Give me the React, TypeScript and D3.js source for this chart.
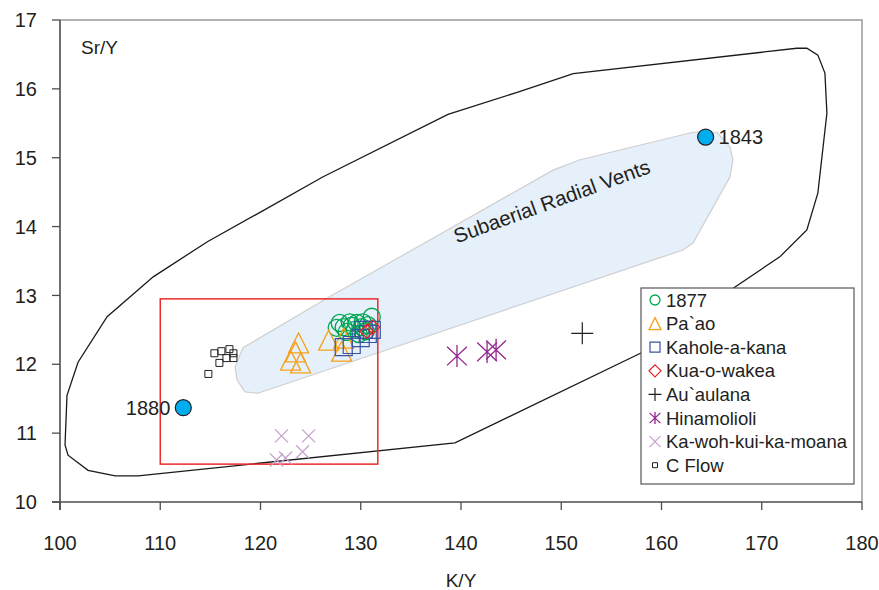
// React
import { useEffect, useRef } from 'react';

// Installed Packages
import * as d3 from 'd3';

type Pt = [number, number];

// Axes
const xTicks = [100, 110, 120, 130, 140, 150, 160, 170, 180];
const yTicks = [10, 11, 12, 13, 14, 15, 16, 17];

// Outer field (black outline), K/Y vs Sr/Y
const envelope: Pt[] = [
    [100.5, 10.83], [100.8, 10.68], [102.8, 10.46], [105.5, 10.38], [107.8, 10.38],
    [139.4, 10.86], [157.9, 12.16], [167.3, 13.12], [171.8, 13.56], [174.5, 13.95],
    [175.6, 14.49], [176.5, 15.65], [176.3, 16.23], [175.6, 16.49], [174.5, 16.59],
    [173.5, 16.59], [151.2, 16.22], [145.6, 15.95], [138.7, 15.63], [126.2, 14.72],
    [120.0, 14.21], [114.7, 13.78], [109.3, 13.27], [104.7, 12.69], [101.8, 12.03],
    [100.7, 11.55]
];

// Subaerial radial vents field
const radialVents: Pt[] = [
    [118.25, 12.24], [117.46, 11.96], [117.66, 11.77], [118.45, 11.6], [119.75, 11.58],
    [162.14, 13.66], [163.14, 13.76], [166.83, 14.72], [167.13, 14.97], [166.83, 15.16],
    [165.54, 15.37], [163.14, 15.37], [151.87, 14.97], [149.18, 14.82], [135.61, 13.7],
    [127.23, 13.01]
];

// Red box corners [K/Y, Sr/Y]
const redBox: Pt[] = [[110, 12.95], [131.7, 10.55]];

// Series
const s1877: Pt[] = [
    [127.9, 12.6], [128.9, 12.61], [129.6, 12.6], [130.2, 12.61], [131.1, 12.69],
    [127.6, 12.53], [128.6, 12.47], [129.4, 12.5], [130.1, 12.54], [130.7, 12.57],
    [128.3, 12.54], [129.1, 12.56], [129.8, 12.44], [130.5, 12.48]
];
const paao: Pt[] = [
    [123.8, 12.31], [123.5, 12.18], [123.0, 12.06], [124.0, 12.02],
    [126.8, 12.35], [128.1, 12.19], [128.3, 12.38]
];
const kahole: Pt[] = [
    [128.3, 12.25], [129.1, 12.28], [130.0, 12.38], [130.7, 12.44], [131.1, 12.5], [130.3, 12.5]
];
const kuaOWakea: Pt[] = [[131.2, 12.54], [130.6, 12.48]];
const auaulana: Pt[] = [[152.1, 12.45]];
const hinamolioli: Pt[] = [[139.6, 12.12], [142.6, 12.18], [143.5, 12.21]];
const kaWoh: Pt[] = [[122.1, 10.96], [124.8, 10.96], [121.6, 10.61], [122.5, 10.64], [124.2, 10.73]];
const cFlow: Pt[] = [
    [114.8, 11.86], [115.9, 12.02], [115.4, 12.16], [116.1, 12.19],
    [116.6, 12.09], [116.9, 12.22], [117.3, 12.16], [117.3, 12.09]
];

// Labelled eruptions
const eruptionLabels = ['1880', '1843'];
const eruptionPoints: Pt[] = [[112.3, 11.37], [164.4, 15.3]];

type Marker = 'circle' | 'triangle' | 'square' | 'diamond' | 'plus' | 'asterisk' | 'x';

const series: { name: string, color: string, marker: Marker, size: number, legendSize: number, width: number, data: Pt[] }[] = [
    { name: '1877', color: '#00a651', marker: 'circle', size: 17, legendSize: 10, width: 1.3, data: s1877 },
    { name: 'Pa`ao', color: '#f7a11a', marker: 'triangle', size: 20, legendSize: 12, width: 1.3, data: paao },
    { name: 'Kahole-a-kana', color: '#3953a4', marker: 'square', size: 17, legendSize: 10, width: 1.2, data: kahole },
    { name: 'Kua-o-wakea', color: '#ed1c24', marker: 'diamond', size: 14, legendSize: 12, width: 1.2, data: kuaOWakea },
    { name: 'Au`aulana', color: '#231f20', marker: 'plus', size: 22, legendSize: 13, width: 1.2, data: auaulana },
    { name: 'Hinamolioli', color: '#92278f', marker: 'asterisk', size: 22, legendSize: 12, width: 1.3, data: hinamolioli },
    { name: 'Ka-woh-kui-ka-moana', color: '#c9a1cf', marker: 'x', size: 13, legendSize: 11, width: 1.3, data: kaWoh },
    { name: 'C Flow', color: '#231f20', marker: 'square', size: 7, legendSize: 5, width: 1, data: cFlow }
];

function markerPath(kind: Marker, s: number): string {
    const h = s / 2;
    switch (kind) {
        case 'triangle': return `M0,${-h}L${h},${h}L${-h},${h}Z`;
        case 'square': return `M${-h},${-h}h${s}v${s}h${-s}Z`;
        case 'diamond': return `M0,${-h}L${h},0L0,${h}L${-h},0Z`;
        case 'plus': return `M${-h},0H${h}M0,${-h}V${h}`;
        case 'x': return `M${-h},${-h}L${h},${h}M${-h},${h}L${h},${-h}`;
        case 'asterisk': return `M0,${-h}V${h}M${-h * 0.9},${-h * 0.85}L${h * 0.9},${h * 0.85}M${-h * 0.9},${h * 0.85}L${h * 0.9},${-h * 0.85}`;
        default: return d3.symbol(d3.symbolCircle, Math.PI * h * h)()!;
    }
}

export default function App() {

    let ref = useRef<SVGSVGElement>(null);

    useEffect(() => {
        const font = 'Liberation Sans, Arial, Helvetica, sans-serif';
        const svg = d3.select(ref.current);
        svg.selectAll('*').remove();

        const x = d3.scaleLinear().domain([100, 180]).range([60, 862]);
        const y = d3.scaleLinear().domain([10, 17]).range([502, 20]);

        const line = d3.line<Pt>().x(d => x(d[0])).y(d => y(d[1]));

        // Plot frame (top and right, grey)
        svg.append('path')
            .attr('d', `M${x(100)},${y(17)}H${x(180)}V${y(10)}`)
            .attr('fill', 'none')
            .attr('stroke', '#9a9a9a')
            .attr('stroke-width', 1.5);

        // Radial vents field
        svg.append('path')
            .attr('d', line.curve(d3.curveLinearClosed)(radialVents))
            .attr('fill', '#e5f0fa')
            .attr('stroke', '#cfcfcf')
            .attr('stroke-width', 1.2);

        // Envelope
        svg.append('path')
            .attr('d', line.curve(d3.curveLinearClosed)(envelope))
            .attr('fill', 'none')
            .attr('stroke', '#1a1a1a')
            .attr('stroke-width', 1.3);

        // Red box
        svg.append('rect')
            .attr('x', x(redBox[0][0]))
            .attr('y', y(redBox[0][1]))
            .attr('width', x(redBox[1][0]) - x(redBox[0][0]))
            .attr('height', y(redBox[1][1]) - y(redBox[0][1]))
            .attr('fill', 'none')
            .attr('stroke', '#ee2a2a')
            .attr('stroke-width', 1.5);

        // Field label
        svg.append('text')
            .attr('transform', `translate(${x(149.3)},${y(14.27)}) rotate(-20)`)
            .attr('text-anchor', 'middle')
            .attr('font-family', font)
            .attr('font-size', 20.5)
            .attr('fill', '#231f20')
            .text('Subaerial Radial Vents');

        // Series points
        series.forEach(s => {
            const filled = false;
            svg.append('g')
                .selectAll('path')
                .data(s.data)
                .join('path')
                .attr('transform', d => `translate(${x(d[0])},${y(d[1])})`)
                .attr('d', markerPath(s.marker, s.size))
                .attr('fill', filled ? s.color : 'none')
                .attr('stroke', s.color)
                .attr('stroke-width', s.width);
        });

        // Eruption points
        svg.append('g')
            .selectAll('circle')
            .data(eruptionPoints)
            .join('circle')
            .attr('cx', d => x(d[0]))
            .attr('cy', d => y(d[1]))
            .attr('r', 8)
            .attr('fill', '#00aeef')
            .attr('stroke', '#231f20')
            .attr('stroke-width', 1.2);

        svg.append('g')
            .selectAll('text')
            .data(eruptionPoints)
            .join('text')
            .attr('x', (d, i) => i === 0 ? x(d[0]) - 13 : x(d[0]) + 13)
            .attr('y', d => y(d[1]) + 7)
            .attr('text-anchor', (d, i) => i === 0 ? 'end' : 'start')
            .attr('font-family', font)
            .attr('font-size', 20)
            .attr('fill', '#231f20')
            .text((d, i) => eruptionLabels[i]);

        // Legend
        const legend = svg.append('g').attr('transform', 'translate(641,288)');
        legend.append('rect')
            .attr('width', 213)
            .attr('height', 196)
            .attr('fill', '#fff')
            .attr('stroke', '#555')
            .attr('stroke-width', 1.2);

        const items = legend.selectAll('g.item')
            .data(series)
            .join('g')
            .attr('class', 'item')
            .attr('transform', (d, i) => `translate(14,${12 + i * 23.6})`);

        items.append('path')
            .attr('d', d => markerPath(d.marker, d.legendSize))
            .attr('fill', 'none')
            .attr('stroke', d => d.color)
            .attr('stroke-width', d => d.width);

        items.append('text')
            .attr('x', 11)
            .attr('y', 6.5)
            .attr('font-family', font)
            .attr('font-size', 18.5)
            .attr('fill', '#231f20')
            .text(d => d.name);

        // Axes
        const axisColor = '#4d4d4d';
        svg.append('path')
            .attr('d', `M${x(100)},${y(17)}V${y(10) + 8}M${x(100) - 8},${y(10)}H${x(180)}`)
            .attr('fill', 'none')
            .attr('stroke', axisColor)
            .attr('stroke-width', 1.6);

        svg.append('g')
            .selectAll('line')
            .data(yTicks)
            .join('line')
            .attr('x1', x(100) - 8)
            .attr('x2', x(100))
            .attr('y1', d => y(d))
            .attr('y2', d => y(d))
            .attr('stroke', axisColor)
            .attr('stroke-width', 1.3);

        svg.append('g')
            .selectAll('line')
            .data(xTicks)
            .join('line')
            .attr('x1', d => x(d))
            .attr('x2', d => x(d))
            .attr('y1', y(10))
            .attr('y2', y(10) + 8)
            .attr('stroke', axisColor)
            .attr('stroke-width', 1.3);

        svg.append('g')
            .selectAll('text')
            .data(yTicks)
            .join('text')
            .attr('x', 37)
            .attr('y', d => y(d))
            .attr('dy', '0.36em')
            .attr('text-anchor', 'end')
            .attr('font-family', font)
            .attr('font-size', 20)
            .attr('fill', '#231f20')
            .text(d => d);

        svg.append('g')
            .selectAll('text')
            .data(xTicks)
            .join('text')
            .attr('x', d => x(d))
            .attr('y', 550)
            .attr('text-anchor', 'middle')
            .attr('font-family', font)
            .attr('font-size', 20)
            .attr('fill', '#231f20')
            .text(d => d);

        svg.append('text')
            .attr('x', 461)
            .attr('y', 587)
            .attr('text-anchor', 'middle')
            .attr('font-family', font)
            .attr('font-size', 19)
            .attr('fill', '#231f20')
            .text('K/Y');

        svg.append('text')
            .attr('x', 81)
            .attr('y', 54)
            .attr('font-family', font)
            .attr('font-size', 19)
            .attr('fill', '#231f20')
            .text('Sr/Y');

    }, [])

    return <svg ref={ref} width={879} height={590} style={{ position: 'absolute', left: 0, top: 0, background: '#fff' }}></svg>
}
